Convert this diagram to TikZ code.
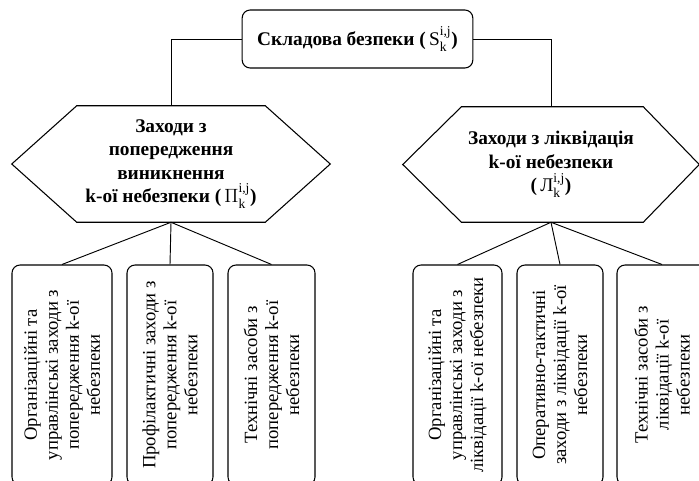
\documentclass[tikz,border=0pt]{standalone}
\usepackage{amsmath}
\usepackage{fontspec}
\setmainfont{Liberation Serif}
\usetikzlibrary{shapes, arrows}
\usetikzlibrary{positioning}

\begin{document}
\begin{tikzpicture}[x=0.75pt,y=-0.75pt,
    topbox/.style={draw,rounded corners=6pt,line width=0.8pt,minimum width=173pt,minimum height=43.5pt,inner sep=0pt,font=\bfseries\fontsize{14.5}{17}\selectfont},
    hexbox/.style={inner sep=0pt,align=center,font=\bfseries\fontsize{14.5}{17.5}\selectfont},
    subbox/.style={draw,rounded corners=6pt,line width=0.8pt,rotate=90,minimum width=165pt,inner sep=0pt,align=center,font=\fontsize{14}{15.75}\selectfont},
    link/.style={line width=0.7pt}]

		    \useasboundingbox (0,0) rectangle (699,480);
		    \clip (0,0) rectangle (699,480);

		    % top level
		    \node(top) [topbox] at (357.5,39) {Складова безпеки (\,$\textnormal{S}^{\textnormal{i,j}}_{\textnormal{k}}$)};

		    % second level
		    \node(lhex) [hexbox,minimum width=238.5pt,minimum height=87pt] at (171,164) {Заходи з\\попередження\\виникнення\\k-ої небезпеки (\,$\Pi^{\textnormal{i,j}}_{\textnormal{k}}$)};
		    \node(rhex) [hexbox,minimum width=222pt,minimum height=86.25pt] at (551,164.5) {Заходи з ліквідація\\k-ої небезпеки\\(\,$\textnormal{Л}^{\textnormal{i,j}}_{\textnormal{k}}$)};
		    \draw[line width=0.8pt] (lhex.west) -- ([xshift=48.75pt]lhex.north west) -- ([xshift=-48.75pt]lhex.north east) -- (lhex.east) -- ([xshift=-48.75pt]lhex.south east) -- ([xshift=48.75pt]lhex.south west) -- cycle;
		    \draw[line width=0.8pt] (rhex.west) -- ([xshift=44pt]rhex.north west) -- ([xshift=-42pt]rhex.north east) -- (rhex.east) -- ([xshift=-42pt]rhex.south east) -- ([xshift=44pt]rhex.south west) -- cycle;

		    % third level
		    \node(b1) [subbox,minimum height=75pt] at (62,375) {Організаційні та\\управлінські заходи з\\попередження k-ої\\небезпеки};
		    \node(b2) [subbox,minimum height=64.5pt] at (170,375) {Профілактичні заходи з\\попередження k-ої\\небезпеки};
		    \node(b3) [subbox,minimum height=65.25pt] at (271.5,375) {Технічні засоби з\\попередження k-ої\\небезпеки};
		    \node(b4) [subbox,minimum height=66.75pt] at (457.5,375) {Організаційні та\\управлінські заходи з\\ліквідації k-ої небезпеки};
		    \node(b5) [subbox,minimum height=64.5pt] at (560,375) {Оперативно-тактичні\\заходи з ліквідації k-ої\\небезпеки};
		    \node(b6) [subbox,minimum height=67.5pt] at (662,375) {Технічні засоби з\\ліквідації k-ої\\небезпеки};

		    \draw[link] (top.west) -| (lhex.north);
		    \draw[link] (top.east) -| (rhex.north);

		    \draw[link] (lhex.south) -- (b1.east);
		    \draw[link] (lhex.south) -- (b2.east);
		    \draw[link] (lhex.south) -- (b3.east);
		    \draw[link] (rhex.south) -- (b4.east);
		    \draw[link] (rhex.south) -- (b5.east);
		    \draw[link] (rhex.south) -- (b6.east);

\end{tikzpicture}
\end{document}
